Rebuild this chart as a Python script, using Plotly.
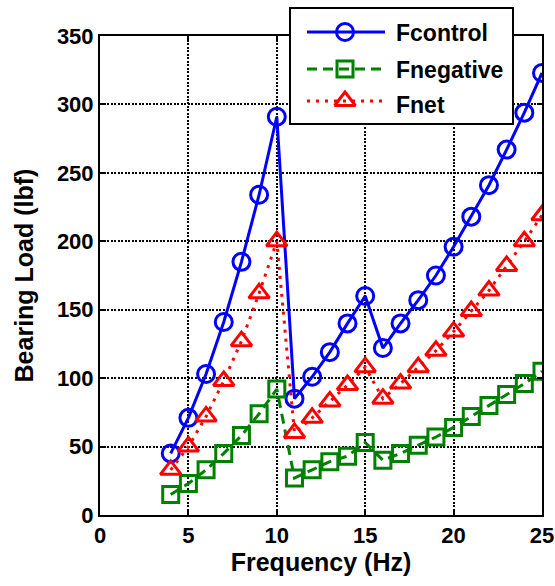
import plotly.graph_objects as go

# Bearing load versus excitation frequency
freq_hz = list(range(4, 26))
f_control = [45, 71, 103, 141, 185, 234, 291, 85, 101, 119, 140, 160, 122, 140, 157, 175,
             196, 218, 241, 267, 294, 323]
f_negative = [15, 23, 33, 45, 58, 74, 92, 27, 33, 39, 43, 53, 40, 45, 51, 57,
              64, 72, 80, 88, 96, 105]
f_net = [33, 50, 72, 98, 127, 162, 200, 60, 71, 83, 95, 108, 85, 96, 108, 120,
         134, 149, 164, 182, 200, 219]

series_names = ["Fcontrol", "Fnegative", "Fnet"]
x_ticks = [0, 5, 10, 15, 20, 25]
y_ticks = [0, 50, 100, 150, 200, 250, 300, 350]

FONT = "Arial, Liberation Sans, sans-serif"
W, H = 555, 586
ML, MR, MT, MB = 100, 13, 4, 71
PLOT_TOP = 36  # top edge of the data axes, in px

styles = [
    dict(line=dict(color="#0000ff", width=3, dash="solid"),
         marker=dict(symbol="circle-open", size=17, color="#0000ff", line=dict(width=3))),
    dict(line=dict(color="#008000", width=3, dash="10px,6px"),
         marker=dict(symbol="square-open", size=16, color="#008000", line=dict(width=3))),
    dict(line=dict(color="#ff0000", width=3, dash="3px,6px"),
         marker=dict(symbol="triangle-up-open", size=18, color="#ff0000", line=dict(width=3))),
]

fig = go.Figure()
for name, vals, st in zip(series_names, [f_control, f_negative, f_net], styles):
    fig.add_trace(go.Scatter(x=freq_hz, y=vals, name=name, mode="lines+markers",
                             showlegend=False, xaxis="x", yaxis="y", **st))

# Legend drawn on a full-area pixel-space overlay so samples can be long lines
leg_box = (290, 8, 513, 124)          # x0, y0, x1, y1 in px
leg_rows = [32, 69, 101]               # sample line y (px)
leg_text_y = [33, 70, 105]
leg_line_x = (307, 385)
leg_mark_x = 345
leg_text_x = 394

fig.add_shape(type="rect", xref="x2", yref="y2",
              x0=leg_box[0], x1=leg_box[2], y0=leg_box[1], y1=leg_box[3],
              fillcolor="white", line=dict(color="black", width=2), layer="between")
for name, ry, ty, st in zip(series_names, leg_rows, leg_text_y, styles):
    fig.add_trace(go.Scatter(x=list(leg_line_x), y=[ry, ry], mode="lines",
                             line=st["line"], xaxis="x2", yaxis="y2",
                             showlegend=False, hoverinfo="skip"))
    fig.add_trace(go.Scatter(x=[leg_mark_x], y=[ry], mode="markers",
                             marker=st["marker"], xaxis="x2", yaxis="y2",
                             showlegend=False, hoverinfo="skip", cliponaxis=False))
    fig.add_annotation(x=leg_text_x, y=ty, xref="x2", yref="y2", text=f"<b>{name}</b>",
                       showarrow=False, xanchor="left", yanchor="middle",
                       font=dict(family=FONT, size=23, color="black"))

axis_common = dict(
    showline=True, linecolor="black", linewidth=2, mirror="ticks",
    ticks="inside", ticklen=5, tickwidth=1.5, tickcolor="black",
    showgrid=True, gridcolor="black", gridwidth=1.5, griddash="2px,1.5px",
    zeroline=False, automargin=False,
    tickfont=dict(family=FONT, size=22, color="black", weight="bold"),
)

plot_h = H - MT - MB
fig.update_layout(
    xaxis=dict(range=[0, 25], tickvals=x_ticks, anchor="y",
               title=dict(text="<b>Frequency (Hz)</b>",
                          font=dict(family=FONT, size=25, color="black"), standoff=6),
               **axis_common),
    yaxis=dict(range=[0, 350], tickvals=y_ticks, anchor="x",
               domain=[0, (H - MB - PLOT_TOP) / plot_h],
               title=dict(text="<b>Bearing Load (lbf)</b>",
                          font=dict(family=FONT, size=25, color="black"), standoff=16),
               **axis_common),
    xaxis2=dict(range=[ML, W - MR], domain=[0, 1], anchor="y2", visible=False,
                showgrid=False, zeroline=False, fixedrange=True),
    yaxis2=dict(range=[H - MB, MT], domain=[0, 1], anchor="x2", visible=False,
                showgrid=False, zeroline=False, fixedrange=True),
    width=W, height=H,
    margin=dict(l=ML, r=MR, t=MT, b=MB),
    paper_bgcolor="white", plot_bgcolor="rgba(0,0,0,0)",
    font=dict(family=FONT, color="black"),
    showlegend=False,
)

fig.write_html("out.html")
